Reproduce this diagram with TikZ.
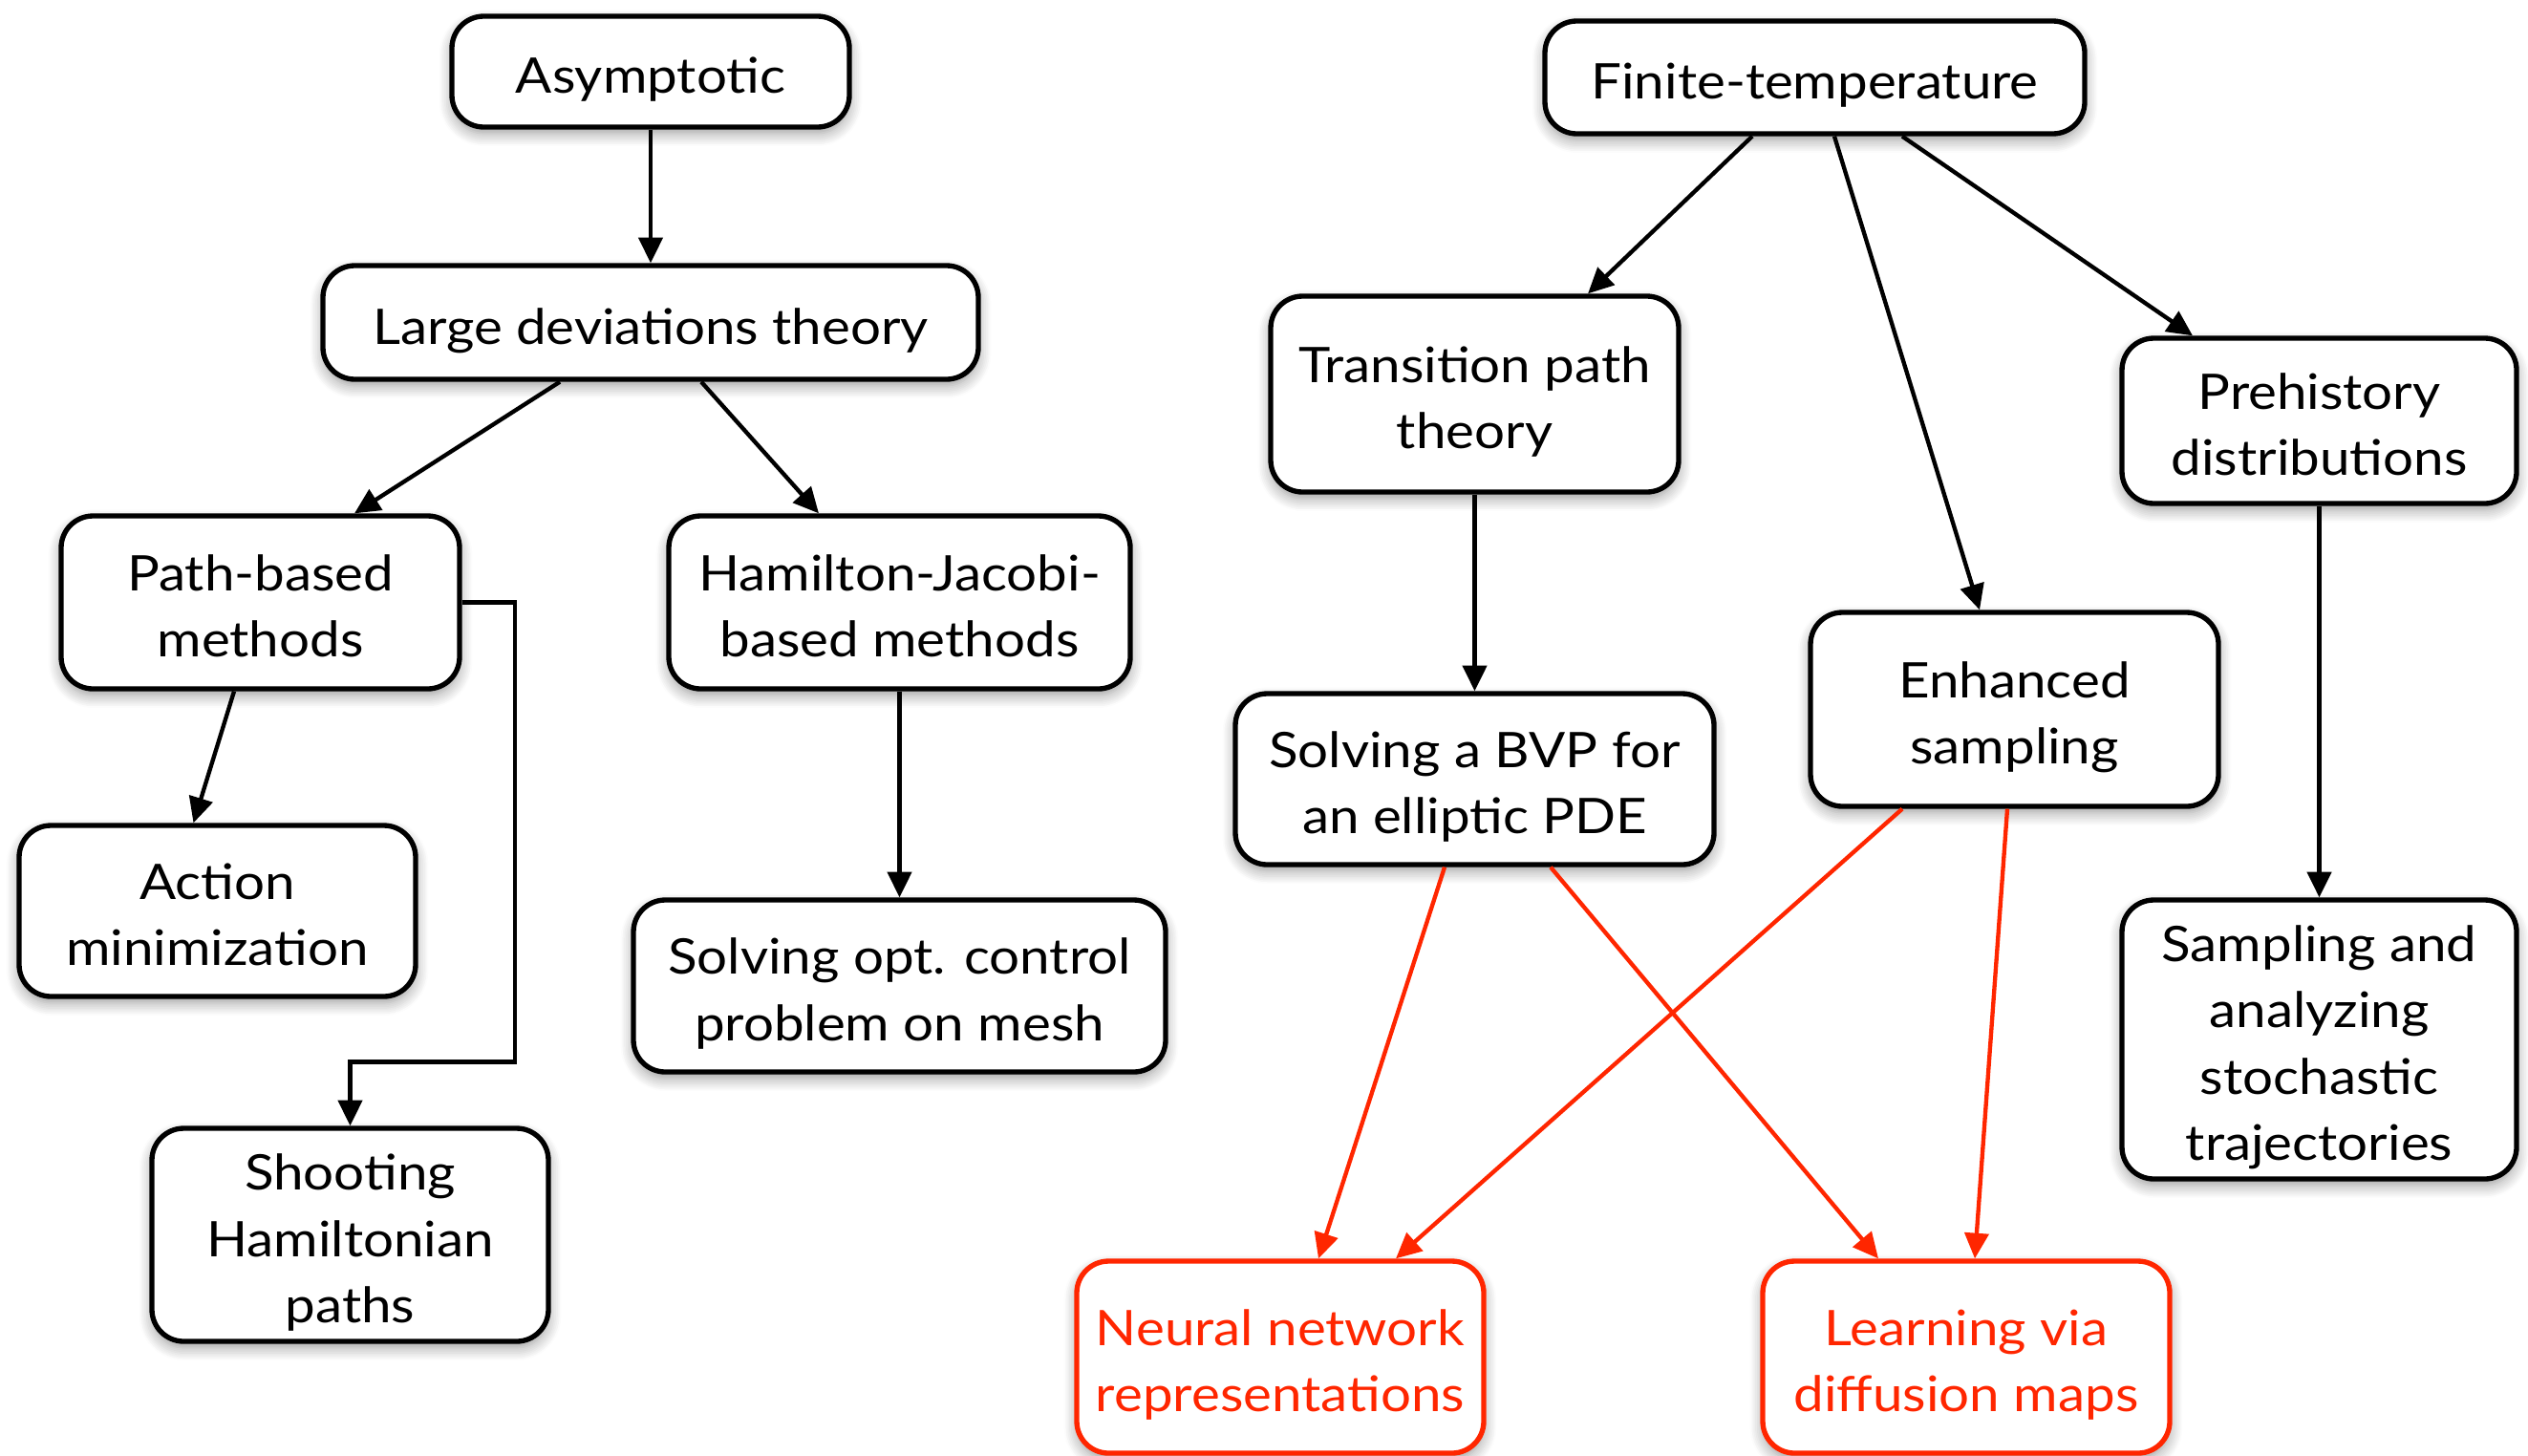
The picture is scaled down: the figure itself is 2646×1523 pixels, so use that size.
\documentclass[tikz,border=0pt]{standalone}
\usepackage{fontspec}
\setmainfont[FakeStretch=1.1]{Lato}
\usetikzlibrary{arrows.meta,calc,shadows.blur}
\definecolor{hl}{RGB}{255,38,0}
\newcommand\flstrut{\rule{0pt}{13.5pt}}
\begin{document}
\begin{tikzpicture}[x=0.3pt,y=-0.3pt,
  box/.style={draw, line width=1.6pt, rounded corners=10pt, fill=white, align=center,
    font=\fontsize{15.4}{20.8}\selectfont, inner sep=0pt, text depth=0pt,
    blur shadow={shadow blur steps=8, shadow xshift=0pt, shadow yshift=-2pt, shadow opacity=40, shadow blur radius=4pt}},
  rbox/.style={box, draw=hl, text=hl},
  arr/.style={-{Triangle[length=8pt,width=7.5pt]}, line width=1.3pt},
  rarr/.style={arr, draw=hl}]
\useasboundingbox (0,0) rectangle (2646,1523);
% left tree
\node[box, minimum width=124.8pt, minimum height=34.8pt] (asym) at (681,75) {\flstrut Asymptotic};
\node[box, minimum width=205.8pt, minimum height=35.7pt] (ldt) at (681,337.5) {\flstrut Large deviations theory};
\node[box, minimum width=125.1pt, minimum height=54.3pt] (path) at (272.5,630.5) {\flstrut Path-based\\methods};
\node[box, minimum width=144.9pt, minimum height=54.3pt] (hj) at (941.5,630.5) {\flstrut Hamilton-Jacobi-\\based methods};
\node[box, minimum width=124.5pt, minimum height=53.7pt] (action) at (227.5,953.5) {\flstrut Action\\minimization};
\node[box, minimum width=167.1pt, minimum height=54pt] (optc) at (941.5,1032) {\flstrut Solving opt. control\\problem on mesh};
\node[box, minimum width=124.5pt, minimum height=66.9pt] (shoot) at (366.5,1292.5) {\flstrut Shooting\\Hamiltonian\\paths};
% right tree
\node[box, minimum width=169.5pt, minimum height=35.4pt] (finite) at (1899.5,81) {\flstrut Finite-temperature};
\node[box, minimum width=128.1pt, minimum height=61.5pt] (tpt) at (1543.5,412.5) {\flstrut Transition path\\theory};
\node[box, minimum width=123.9pt, minimum height=51.9pt] (prehist) at (2427.5,440.5) {\flstrut Prehistory\\distributions};
\node[box, minimum width=128.1pt, minimum height=60.9pt] (enh) at (2108.5,742.5) {\flstrut Enhanced\\sampling};
\node[box, minimum width=150.3pt, minimum height=53.7pt] (bvp) at (1543.5,815.5) {\flstrut Solving a BVP for\\an elliptic PDE};
\node[box, minimum width=123.9pt, minimum height=87.6pt] (sampl) at (2427.5,1088) {\flstrut Sampling and\\analyzing\\stochastic\\trajectories};
\node[rbox, minimum width=127.8pt, minimum height=60.3pt] (neural) at (1340,1420.5) {\flstrut Neural network\\representations};
\node[rbox, minimum width=127.8pt, minimum height=60.3pt] (learn) at (2058,1420.5) {\flstrut Learning via\\diffusion maps};
% connectors left
\draw[arr] (asym.south) -- (ldt.north);
\draw[arr] ($(ldt.south)+(-95,0)$) -- ($(path.north)+(98.5,0)$);
\draw[arr] ($(ldt.south)+(53,0)$) -- ($(hj.north)+(-84.5,0)$);
\draw[arr] ($(path.south)+(-27.5,0)$) -- ($(action.north)+(-25,0)$);
\draw[arr] (path.east) -- ++(55,0) |- ($(shoot.north)+(0,-67)$) -- (shoot.north);
\draw[arr] (hj.south) -- (optc.north);
% connectors right
\draw[arr] ($(finite.south)+(-65.5,0)$) -- ($(tpt.north)+(118.5,0)$);
\draw[arr] ($(finite.south)+(20.5,0)$) -- ($(enh.north)+(-36.5,0)$);
\draw[arr] ($(finite.south)+(91.5,0)$) -- ($(prehist.north)+(-132.5,0)$);
\draw[arr] (tpt.south) -- (bvp.north);
\draw[arr] (prehist.south) -- (sampl.north);
\draw[rarr] ($(bvp.south)+(-31.5,0)$) -- ($(neural.north)+(40,0)$);
\draw[rarr] ($(bvp.south)+(79.5,0)$) -- ($(learn.north)+(-92,0)$);
\draw[rarr] ($(enh.south)+(-117.5,0)$) -- ($(neural.north)+(121,0)$);
\draw[rarr] ($(enh.south)+(-7.5,0)$) -- ($(learn.north)+(9,0)$);
\end{tikzpicture}
\end{document}
